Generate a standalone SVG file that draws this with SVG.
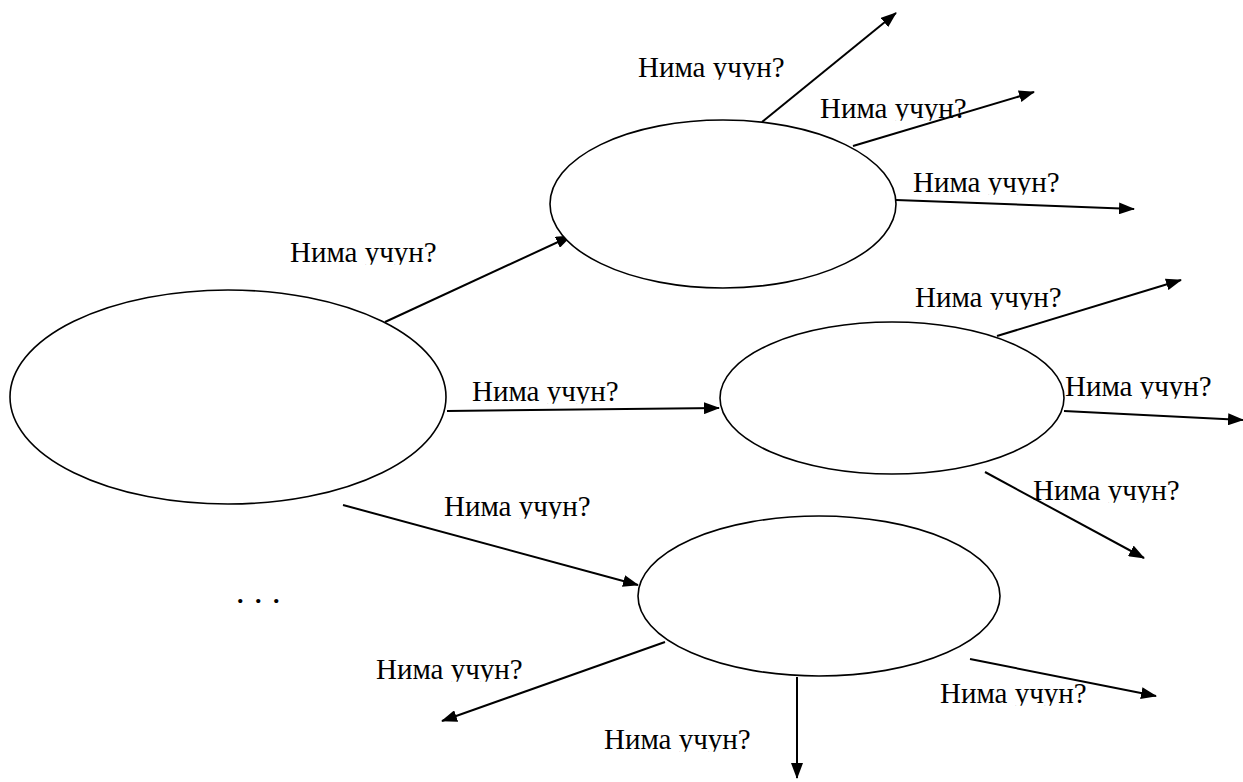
<svg xmlns="http://www.w3.org/2000/svg" width="1243" height="782" viewBox="0 0 1243 782">
<style>
.n{fill:#fff;stroke:#000;stroke-width:1.6}
.c{stroke:#000;stroke-width:2;fill:none;marker-end:url(#ah)}
.t{font-family:"Liberation Serif","Times New Roman",serif;font-size:29px;fill:#000;clip-path:url(#cut)}
</style>
<defs>
<marker id="ah" markerWidth="16" markerHeight="12" refX="15" refY="6" orient="auto" markerUnits="userSpaceOnUse">
<path d="M0,0 L16,6 L0,12 Z" fill="#000"/>
</marker>
<clipPath id="cut" clipPathUnits="objectBoundingBox"><rect x="-0.1" y="-0.1" width="1.2" height="1.0"/></clipPath>
</defs>
<rect width="1243" height="782" fill="#fff"/>
<g id="connectors">
<line class="c" x1="385" y1="322" x2="571" y2="236"/>
<line class="c" x1="447" y1="411" x2="719" y2="408"/>
<line class="c" x1="343" y1="505" x2="638" y2="585"/>
<line class="c" x1="762" y1="122" x2="896" y2="13"/>
<line class="c" x1="853" y1="146" x2="1034" y2="92"/>
<line class="c" x1="896" y1="200" x2="1134" y2="209"/>
<line class="c" x1="997" y1="336" x2="1181" y2="280"/>
<line class="c" x1="1064" y1="411" x2="1243" y2="420"/>
<line class="c" x1="985" y1="472" x2="1144" y2="558"/>
<line class="c" x1="665" y1="642" x2="442" y2="721"/>
<line class="c" x1="797" y1="677" x2="797" y2="778"/>
<line class="c" x1="970" y1="659" x2="1156" y2="696"/>
</g>
<g id="node-main"><ellipse class="n" cx="228" cy="397" rx="218" ry="107"/></g>
<g id="node-top"><ellipse class="n" cx="723" cy="204" rx="173" ry="84"/></g>
<g id="node-middle"><ellipse class="n" cx="892" cy="398" rx="172" ry="76"/></g>
<g id="node-bottom"><ellipse class="n" cx="819" cy="596" rx="181" ry="80"/></g>
<g id="labels">
<text class="t" x="290" y="262">Нима учун?</text>
<text class="t" x="638" y="77">Нима учун?</text>
<text class="t" x="820" y="118">Нима учун?</text>
<text class="t" x="913" y="192">Нима учун?</text>
<text class="t" x="472" y="401">Нима учун?</text>
<text class="t" x="444" y="516">Нима учун?</text>
<text class="t" x="915" y="307">Нима учун?</text>
<text class="t" x="1065" y="396">Нима учун?</text>
<text class="t" x="1033" y="500">Нима учун?</text>
<text class="t" x="376" y="679">Нима учун?</text>
<text class="t" x="604" y="749">Нима учун?</text>
<text class="t" x="940" y="703">Нима учун?</text>
<text x="237 255 273" y="603" style="font-family:'Liberation Serif',serif;font-weight:bold;font-size:26px">...</text>
</g>
</svg>
